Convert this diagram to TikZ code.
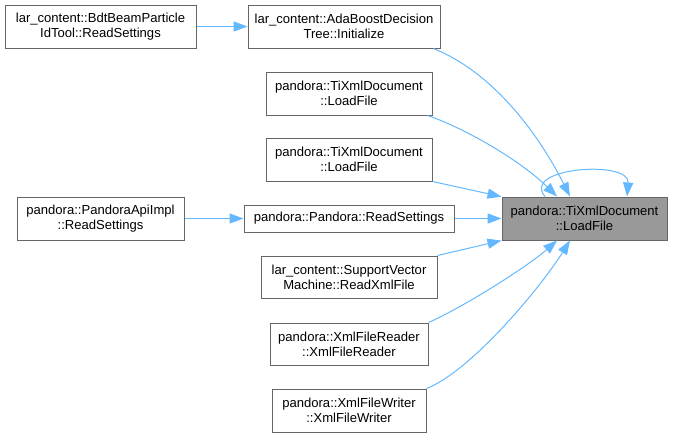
\documentclass[tikz,border=0pt]{standalone}
\usepackage{fontspec}
\setmainfont{Liberation Sans}
\definecolor{edgeblue}{HTML}{63B8FF}
\definecolor{boxline}{HTML}{666666}
\definecolor{rootfill}{HTML}{999999}
\tikzset{
  fn/.style={draw=boxline, fill=white, line width=0.75pt, align=center, inner sep=0pt,
    font=\fontsize{9.8}{11.5}\selectfont},
  sz/.style 2 args={minimum width=#1*0.75pt, minimum height=#2*0.75pt},
  call/.style={edgeblue, line width=0.75pt, -{Stealth[inset=0pt,length=10.5pt,width=7.6pt]}}
}
\usetikzlibrary{arrows.meta}
\begin{document}
\begin{tikzpicture}[x=0.75pt, y=-0.75pt]
  \useasboundingbox (0,0) rectangle (673,437);
  \node[fn, sz={191}{43}] (bdt) at (100.5,26.5) {lar\_content::BdtBeamParticle\\IdTool::ReadSettings};
  \node[fn, sz={192}{43}] (ada) at (344,26.5) {lar\_content::AdaBoostDecision\\Tree::Initialize};
  \node[fn, sz={166}{43}] (tx1) at (349,93.5) {pandora::TiXmlDocument\\::LoadFile};
  \node[fn, sz={166}{43}] (tx2) at (349,159.5) {pandora::TiXmlDocument\\::LoadFile};
  \node[fn, sz={167}{43}] (api) at (100.5,218.5) {pandora::PandoraApiImpl\\::ReadSettings};
  \node[fn, sz={210}{27}] (rs) at (349,218.5) {pandora::Pandora::ReadSettings};
  \node[fn, sz={176}{42}] (svm) at (349,277) {lar\_content::SupportVector\\Machine::ReadXmlFile};
  \node[fn, sz={158}{42}] (rd) at (349,344) {pandora::XmlFileReader\\::XmlFileReader};
  \node[fn, sz={154}{43}] (wr) at (349,410.5) {pandora::XmlFileWriter\\::XmlFileWriter};
  \node[fn, sz={165}{43}, fill=rootfill] (lf) at (584.5,218.5) {pandora::TiXmlDocument\\::LoadFile};
  % callers
  \path[call] (bdt) edge (ada) (api) edge (rs) (rs) edge (lf);
  \draw[call] ([xshift=-5.3pt]ada.south east) .. controls +(67,27) and +(-25,-50) .. ([xshift=-10.9pt]lf.north);
  \draw[call] ([xshift=-3.8pt]tx1.south east) .. controls +(28,9) and +(-42,-41) .. ([xshift=-20.6pt]lf.north);
  \draw[call] (tx2.south east) -- ([yshift=-0.1pt]lf.north west);
  \draw[call] (svm.north east) -- (lf.south west);
  \draw[call] (rd.north east) .. controls +(32,-14) and +(-32,28) .. ([xshift=-20.6pt]lf.south);
  \draw[call] (wr.north east) .. controls +(44,-17) and +(-30,48) .. ([xshift=-10.9pt]lf.south);
  % recursion
  \draw[call] ([xshift=-29.6pt]lf.north) .. controls +(-25,-29) and +(3,-37) .. ([xshift=31.9pt]lf.north);
\end{tikzpicture}
\end{document}
